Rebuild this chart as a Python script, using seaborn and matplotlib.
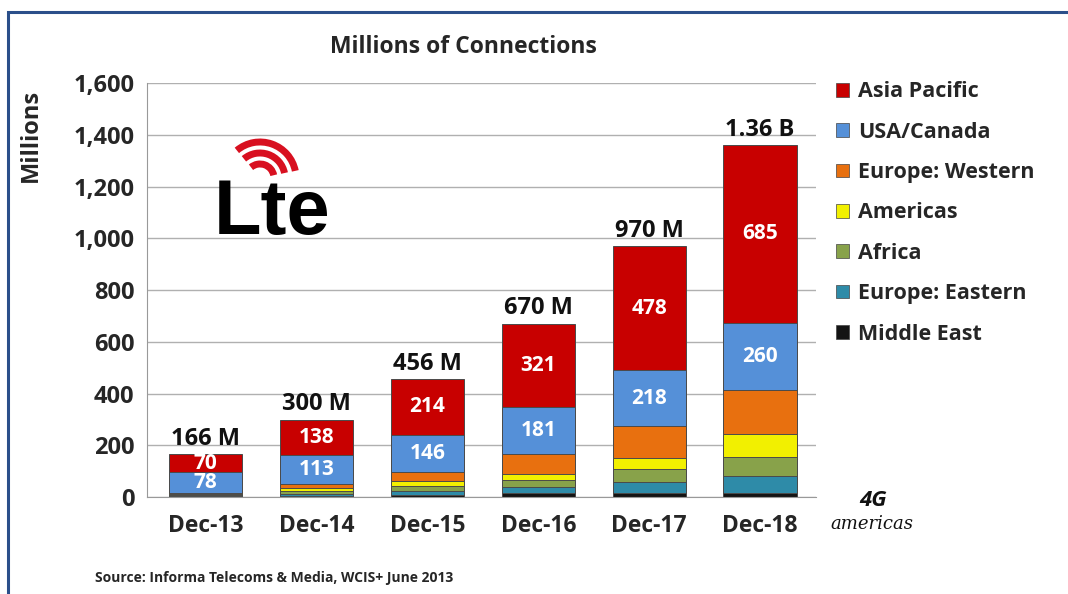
import numpy as np
import pandas as pd
import seaborn as sns
import matplotlib.pyplot as plt
from matplotlib.patches import Rectangle, Arc, Patch

# data (millions of connections)
periods = ["Dec-13", "Dec-14", "Dec-15", "Dec-16", "Dec-17", "Dec-18"]
regions = ["Middle East", "Europe: Eastern", "Africa", "Americas",
           "Europe: Western", "USA/Canada", "Asia Pacific"]
middle_east = [2, 5, 10, 15, 15, 18]
europe_eastern = [3, 8, 15, 23, 42, 62]
africa = [2, 9, 19, 27, 53, 75]
americas = [4, 12, 19, 26, 42, 88]
europe_western = [7, 15, 33, 76, 122, 172]
usa_canada = [78, 113, 146, 181, 218, 260]
asia_pacific = [70, 138, 214, 321, 478, 685]
total_labels = ["166 M", "300 M", "456 M", "670 M", "970 M", "1.36 B"]

colors = {
    "Middle East": "#141414",
    "Europe: Eastern": "#2E8BA8",
    "Africa": "#88A24A",
    "Americas": "#F2F000",
    "Europe: Western": "#E8700F",
    "USA/Canada": "#5590D8",
    "Asia Pacific": "#C80000",
}

values = {
    "Middle East": middle_east,
    "Europe: Eastern": europe_eastern,
    "Africa": africa,
    "Americas": americas,
    "Europe: Western": europe_western,
    "USA/Canada": usa_canada,
    "Asia Pacific": asia_pacific,
}

df = pd.DataFrame({"period": periods})
running = np.zeros(len(periods))
for r in regions:
    running = running + np.array(values[r])
    df[r] = running

sns.set_style("white")
plt.rcParams["font.family"] = ["Open Sans", "DejaVu Sans"]
plt.rcParams["font.weight"] = "bold"

fig = plt.figure(figsize=(10.68, 5.94), dpi=100)
ax = fig.add_axes([0.1376, 0.163, 0.626, 0.697])

# stacked bars: draw cumulative layers from the top one down
for r in reversed(regions):
    sns.barplot(data=df, x="period", y=r, color=colors[r], width=0.66,
                saturation=1, edgecolor="#4a4a4a", linewidth=0.7, ax=ax)

# segment labels inside Asia Pacific and USA/Canada, totals on top
for i in range(len(periods)):
    top = df["Asia Pacific"][i]
    mid_ap = top - asia_pacific[i] / 2
    mid_us = df["USA/Canada"][i] - usa_canada[i] / 2
    ax.text(i, mid_ap, str(asia_pacific[i]), ha="center", va="center",
            color="white", fontsize=15, fontweight="bold")
    ax.text(i, mid_us, str(usa_canada[i]), ha="center", va="center",
            color="white", fontsize=15, fontweight="bold")
    ax.text(i, top + 14, total_labels[i], ha="center", va="bottom",
            color="#111111", fontsize=17, fontweight="bold")

ax.set_ylim(0, 1600)
ax.set_xlim(-0.53, 5.49)
ax.set_yticks(range(0, 1601, 200))
ax.set_yticklabels([f"{v:,}" for v in range(0, 1601, 200)], fontsize=17,
                   fontweight="bold")
ax.set_xticks(range(len(periods)))
ax.set_xticklabels(periods, fontsize=16.5, fontweight="bold")
ax.set_xticks(np.arange(-0.5, 5.6, 1), minor=True)
ax.tick_params(axis="x", which="major", length=0, pad=12)
ax.tick_params(axis="x", which="minor", length=7, color="#888888")
ax.tick_params(axis="y", length=4, color="#888888", pad=5)
ax.set_xlabel("")
ax.set_ylabel("")
ax.yaxis.grid(True, color="#B0B0B0", linewidth=1)
ax.set_axisbelow(True)
for s in ["top", "right"]:
    ax.spines[s].set_visible(False)
ax.spines["left"].set_color("#999999")
ax.spines["bottom"].set_color("#999999")

fig.text(463 / 1068, 1 - 47 / 594, "Millions of Connections", ha="center",
         va="center", fontsize=16.5, fontweight="bold")
fig.text(31 / 1068, 1 - 135 / 594, "Millions", rotation=90, ha="center",
         va="center", fontsize=17, fontweight="bold")
fig.text(95 / 1068, 1 - 578 / 594,
         "Source: Informa Telecoms & Media, WCIS+ June 2013",
         ha="left", va="center", fontsize=10, fontweight="bold")

# legend, top entry first
handles = [Patch(facecolor=colors[r], edgecolor="#444444", linewidth=0.5)
           for r in reversed(regions)]
fig.legend(handles, list(reversed(regions)), loc="upper left",
           bbox_to_anchor=(817 / 1068, 1 - 62 / 594), frameon=False,
           handlelength=0.6, handleheight=0.6, handletextpad=0.4,
           labelspacing=0.9, prop={"weight": "bold", "size": 15.5})

# LTE logo
fig.text(272 / 1068, 1 - 234 / 594, "Lte", ha="center", va="baseline",
         fontsize=56, fontweight="bold", color="black",
         family=["Liberation Sans Narrow", "Liberation Sans", "DejaVu Sans"])
for rad in [14, 25, 36]:
    fig.add_artist(Arc((260 / 1068, 1 - 178 / 594), 2 * rad / 1068,
                       2 * rad / 594, theta1=20, theta2=115,
                       color="#D81020", linewidth=5,
                       transform=fig.transFigure))

# 4G Americas logo
fig.text(873 / 1068, 1 - 500 / 594, "4G", ha="center", va="center",
         fontsize=16, style="italic", color="#111111")
fig.text(872 / 1068, 1 - 524 / 594, "americas", ha="center", va="center",
         fontsize=13, style="italic", fontweight="normal", color="#111111",
         family=["DejaVu Serif"])

# outer frame
fig.add_artist(Rectangle((8 / 1068, -0.05), 1.1, 1 - 12 / 594 + 0.05,
                         transform=fig.transFigure, fill=False,
                         edgecolor="#2B4F8A", linewidth=2.2))

fig.savefig("out.png", dpi=100)
